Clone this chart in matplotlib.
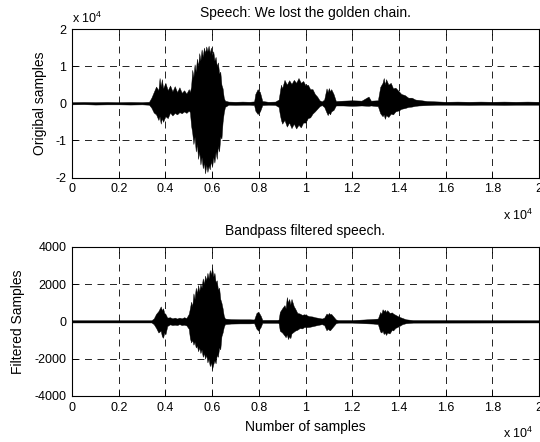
import matplotlib
matplotlib.use('Agg')
import matplotlib.pyplot as plt

plt.rcParams['font.family'] = ['Liberation Sans', 'DejaVu Sans']
plt.rcParams['mathtext.fontset'] = 'custom'
plt.rcParams['mathtext.rm'] = 'Liberation Sans'
plt.rcParams['mathtext.it'] = 'Liberation Sans'
plt.rcParams['lines.scale_dashes'] = False

# ---------------- data (envelope of the waveforms) ----------------
# Original speech: sample positions, upper envelope, lower envelope
orig_x = [0, 500, 1000, 1500, 2000, 2500, 3000, 3300,
          3400, 3500, 3600, 3700, 3750, 3800, 3850, 3900, 4000, 4100, 4200, 4300, 4400, 4500,
          4600, 4700, 4800, 4900, 5000, 5050,
          5100, 5150, 5200, 5250, 5300, 5350, 5400, 5450, 5500, 5550, 5600, 5650, 5700, 5750,
          5800, 5850, 5900, 5950, 6000, 6050, 6100, 6150, 6200, 6250, 6300, 6350, 6400, 6450,
          6500, 6550,
          6700, 7000, 7300, 7600, 7800, 7850, 7950, 8050, 8150, 8400, 8700,
          8850, 8900, 8950, 9000, 9100, 9200, 9300, 9400, 9500, 9600, 9700, 9800, 9900, 10000,
          10100, 10200, 10300, 10400, 10500, 10600, 10700,
          10800, 10900, 10950, 11000, 11050, 11100, 11200, 11300,
          11600, 12000, 12400, 12700, 12800, 13100,
          13200, 13300, 13350, 13400, 13450, 13550, 13650, 13750, 13850, 14000, 14100, 14250,
          14400, 14550, 14700, 14850, 15200,
          15600, 16000, 16500, 17000, 17500, 18000, 18500, 19000, 19500, 20000]
orig_up = [300, 350, 300, 350, 300, 350, 300, 400,
           1500, 3000, 4500, 3500, 6800, 4500, 6500, 4000, 5500, 3500, 4800, 3200, 4600, 3000,
           4300, 2800, 3500, 2600, 3800, 3000,
           4500, 9000, 7000, 10500, 8500, 12000, 10000, 13500, 11500, 14500, 12500, 15000, 13500, 15300,
           14000, 15500, 13500, 15000, 13000, 14000, 11500, 12500, 10000, 11000, 8000, 8500, 5000, 4000,
           1500, 700,
           450, 400, 450, 400, 500, 2500, 3800, 3000, 600, 400, 450,
           1000, 3000, 5000, 4000, 6300, 5000, 6200, 5200, 6300, 5500, 6800, 5500, 6000, 4800,
           5000, 3800, 3800, 2500, 1800, 800, 500,
           1000, 4000, 3000, 4100, 3200, 3800, 2500, 600,
           700, 800, 700, 1800, 700, 800,
           4400, 5500, 6800, 5000, 6500, 5000, 5500, 4000, 4200, 3200, 2500, 2200,
           1500, 1500, 1000, 900, 600,
           500, 400, 450, 400, 450, 400, 450, 400, 450, 400]
orig_lo = [-300, -250, -350, -300, -300, -350, -300, -400,
           -1200, -2500, -3000, -4500, -3500, -5500, -4000, -5000, -3500, -4000, -2500, -3300, -2600, -3000,
           -2400, -2700, -2200, -2600, -2000, -2400,
           -6000, -8000, -11000, -9000, -13000, -11000, -15000, -13000, -16500, -14500, -17500, -16000, -18900, -16500,
           -18500, -16800, -17800, -15500, -17200, -14500, -16000, -13000, -15000, -11500, -13000, -9000, -9500, -5000,
           -2500, -1000,
           -400, -450, -400, -400, -500, -2000, -2900, -2200, -500, -400, -450,
           -1000, -3000, -4500, -5500, -4500, -6300, -5200, -6700, -5500, -6800, -5800, -6500, -5200, -5200,
           -4000, -3800, -2800, -2200, -1500, -800, -500,
           -1000, -2500, -3200, -2500, -3000, -2200, -1800, -600,
           -600, -700, -600, -700, -600, -800,
           -2700, -3500, -3000, -4200, -3200, -3700, -2800, -3000, -2200, -1900, -1500, -1300,
           -1000, -900, -700, -600, -500,
           -400, -400, -400, -450, -400, -400, -450, -400, -400, -400]

# Bandpass filtered speech
filt_x = [0, 3400, 3500, 3600, 3700, 3800, 3850, 3900, 3950, 4000, 4080,
          4200, 4300, 4400, 4500, 4600, 4700, 4800, 4900, 5000,
          5050, 5100, 5150, 5200, 5250, 5300, 5350, 5400, 5450, 5500, 5550, 5600, 5650, 5700,
          5750, 5800, 5850, 5900, 5950, 6000, 6050, 6100, 6150, 6200, 6250, 6300, 6350, 6400,
          6450, 6500, 6550,
          6800, 7200, 7600, 7800, 7900, 7980, 8080, 8150, 8800,
          8850, 8900, 9000, 9100, 9150, 9200, 9250, 9300, 9350, 9400, 9500, 9550, 9650, 9750,
          9850, 9950, 10050, 10150, 10300, 10400, 10500, 10700,
          10800, 10900, 10950, 11000, 11050, 11100, 11200, 11300, 11400,
          12000, 12500, 12900, 13100,
          13200, 13250, 13300, 13350, 13400, 13450, 13500, 13600, 13700, 13750, 13850, 14000,
          14150, 14300, 14600, 20000]
filt_up = [60, 60, 150, 400, 550, 800, 600, 700, 450, 400, 200,
           220, 160, 200, 150, 200, 160, 220, 180, 400,
           700, 1050, 800, 1500, 1200, 1800, 1500, 1950, 1600, 2000, 1800, 2300, 2000, 2450,
           2200, 2600, 2300, 2750, 2500, 2900, 2400, 2600, 2100, 2200, 1700, 1800, 1200, 1000,
           700, 300, 150,
           120, 110, 110, 100, 450, 520, 300, 80, 80,
           100, 500, 700, 870, 700, 1300, 1000, 1200, 900, 1200, 800, 700, 450, 420,
           350, 380, 330, 280, 260, 220, 200, 150,
           200, 420, 350, 450, 380, 400, 250, 100, 70,
           70, 100, 130, 150,
           500, 400, 650, 550, 620, 500, 600, 450, 480, 420, 350, 250,
           180, 110, 70, 60]
filt_lo = [-60, -60, -150, -350, -600, -500, -800, -880, -600, -700, -250,
           -160, -200, -180, -200, -150, -200, -180, -220, -400,
           -900, -1130, -1000, -1250, -1100, -1400, -1300, -1600, -1400, -1700, -1500, -1900, -1700, -2000,
           -1800, -2200, -2000, -2400, -2200, -2550, -2300, -2100, -2250, -1800, -1900, -1400, -1500, -800,
           -600, -300, -150,
           -120, -110, -110, -100, -400, -500, -300, -80, -80,
           -100, -500, -600, -760, -850, -700, -950, -800, -900, -650, -550, -500, -450, -360,
           -380, -300, -310, -300, -260, -230, -200, -150,
           -200, -480, -400, -450, -480, -400, -250, -100, -70,
           -70, -100, -120, -150,
           -550, -600, -500, -680, -600, -730, -600, -650, -450, -490, -350, -260,
           -150, -100, -70, -60]

x_ticks = [0, 2000, 4000, 6000, 8000, 10000, 12000, 14000, 16000, 18000, 20000]
x_ticklabels = ['0', '0.2', '0.4', '0.6', '0.8', '1', '1.2', '1.4', '1.6', '1.8', '2']
top_yticks = [-20000, -10000, 0, 10000, 20000]
top_yticklabels = ['-2', '-1', '0', '1', '2']
bot_yticks = [-4000, -2000, 0, 2000, 4000]
bot_yticklabels = ['-4000', '-2000', '0', '2000', '4000']

title_top = 'Speech: We lost the golden chain.'
title_bot = 'Bandpass filtered speech.'
ylabel_top = 'Origibal samples'
ylabel_bot = 'Filtered Samples'
xlabel_bot = 'Number of samples'
exp_label = r'x 10$^{4}$'

# ---------------- figure ----------------
W, H = 540, 442
fig = plt.figure(figsize=(W / 100, H / 100), dpi=100)
fig.patch.set_facecolor('white')


def fx(px):
    return px / W


def fy(py):
    return 1 - py / H


ax1 = fig.add_axes([fx(72), fy(177.5), 467 / W, 148.5 / H])
ax2 = fig.add_axes([fx(72), fy(396), 467 / W, 149.3 / H])


def style(ax, yticks, yticklabels, ylim):
    ax.set_xlim(0, 20000)
    ax.set_ylim(*ylim)
    ax.set_xticks(x_ticks)
    ax.set_xticklabels(x_ticklabels)
    ax.set_yticks(yticks)
    ax.set_yticklabels(yticklabels)
    ax.tick_params(direction='in', top=True, right=True, length=4, width=0.6,
                   labelsize=9, pad=4, colors='k')
    ax.grid(True, color='k', linestyle=(0, (5, 4)), linewidth=0.6)
    ax.set_axisbelow(False)
    for sp in ax.spines.values():
        sp.set_linewidth(0.8)
        sp.set_color('k')


ax1.fill_between(orig_x, orig_lo, orig_up, color='k', linewidth=0.3, zorder=1.5)
style(ax1, top_yticks, top_yticklabels, (-20000, 20000))

ax2.fill_between(filt_x, filt_lo, filt_up, color='k', linewidth=0.3, zorder=1.5)
style(ax2, bot_yticks, bot_yticklabels, (-4000, 4000))

# texts
fig.text(fx(305), fy(17), title_top, ha='center', va='baseline', fontsize=10)
fig.text(fx(72), fy(23), exp_label, ha='left', va='baseline', fontsize=9)
fig.text(fx(40), fy(103.3), ylabel_top, ha='center', va='center', rotation=90, fontsize=10)
fig.text(fx(533), fy(220), exp_label, ha='right', va='baseline', fontsize=9)

fig.text(fx(305), fy(235), title_bot, ha='center', va='baseline', fontsize=10)
fig.text(fx(18), fy(321.3), ylabel_bot, ha='center', va='center', rotation=90, fontsize=10)
fig.text(fx(305), fy(431), xlabel_bot, ha='center', va='baseline', fontsize=10)
fig.text(fx(533), fy(437.5), exp_label, ha='right', va='baseline', fontsize=9)

fig.savefig('out.png', dpi=100, facecolor='white')
